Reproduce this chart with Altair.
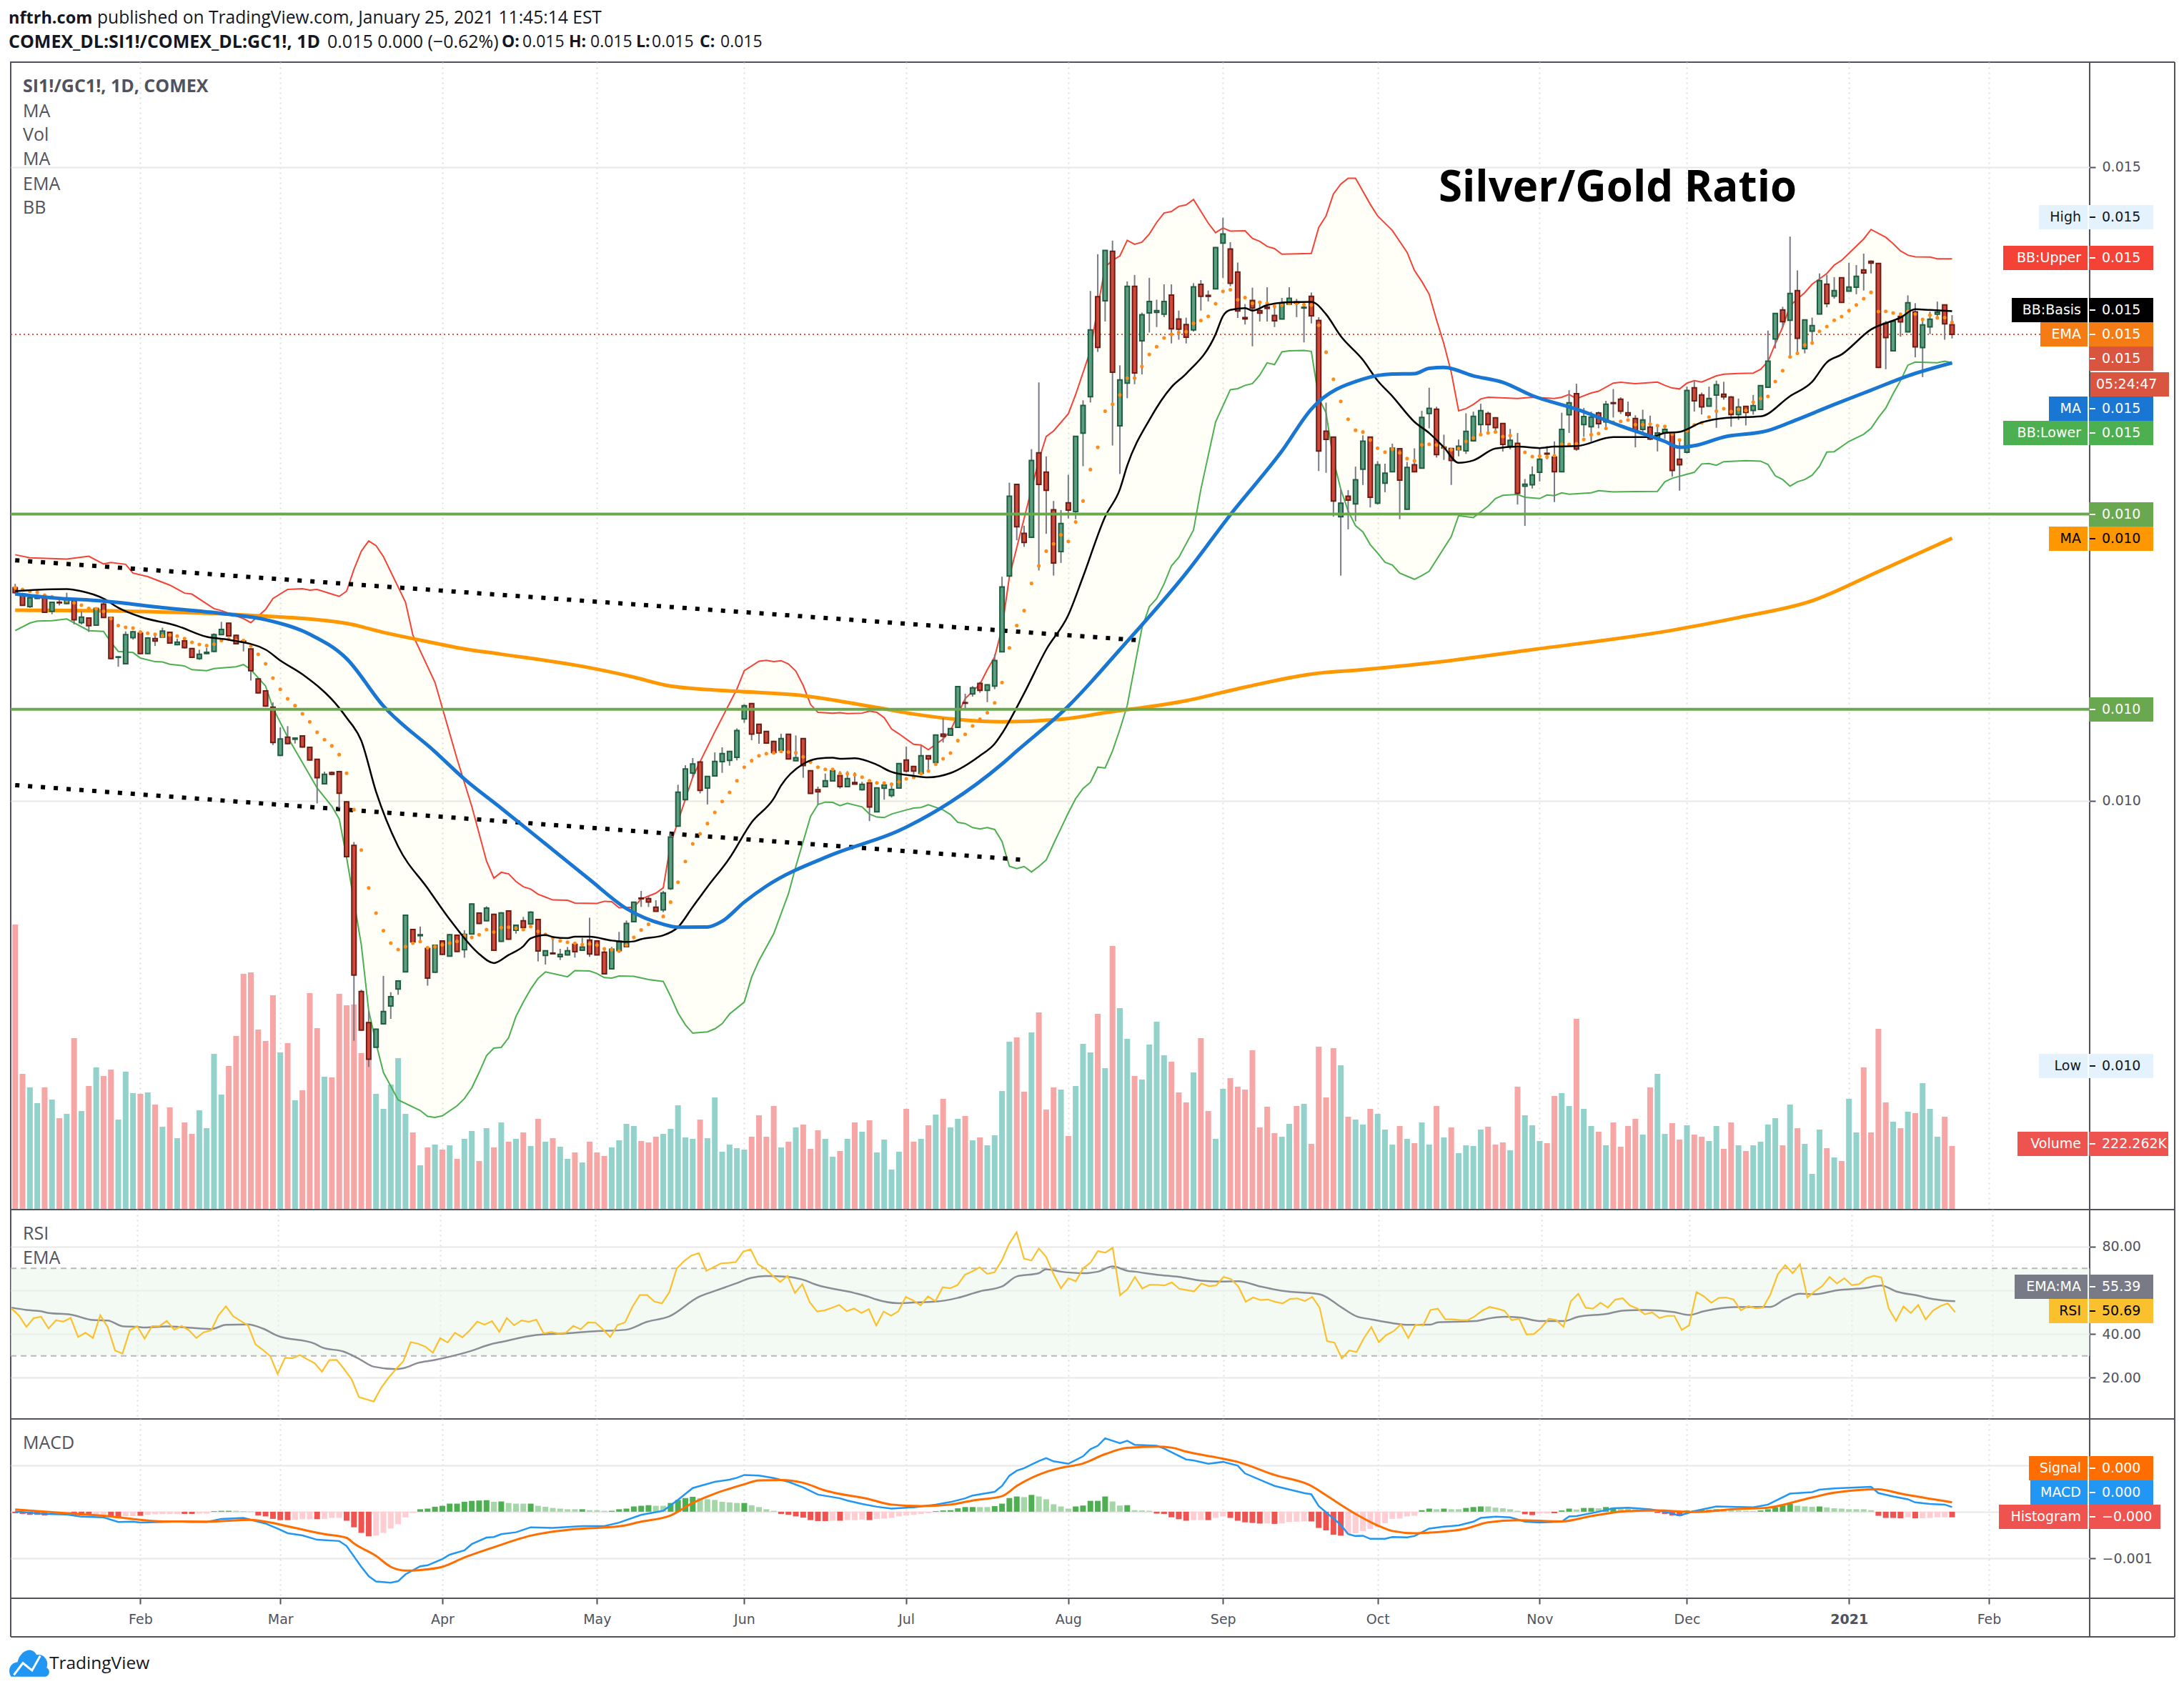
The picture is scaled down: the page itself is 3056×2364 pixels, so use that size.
import altair as alt
import pandas as pd

# ---------- values (price in 1/100000, RSI in points, MACD in 1/1000) ----------
directions = ("rrggrgrgrg" "rgrrgggrgr" "grgrrggggr" "rrrrrrgrgr" "rrgrrrrrrg" "ggggrgrgrg" "rggrgrgrgr"
              "grgrggrgrr" "rggggrrrgg" "gggrgggggg" "rrrrgrgrrr" "ggrgrgrggg" "grrgrgrggr" "grggggrrgr"
              "rrgrgggrgr" "ggrggggrrr" "grrggrrrrr" "rrggrgrrrr" "grggrgggrg" "rggrgrgggg" "rrrgrgggrr"
              "ggrggrgrrr" "rgrggrrgrr" "ggrrgrgggg" "rgrgggrgrg" "grrrrgrgrg" "ggrr")

body_top = [1168,1163,1160,1160,1160,1156.5,1156.5,1158,1157.7,1144.7,
 1144,1151.6,1155,1144.5,1113.4,1131,1133.2,1132,1128.3,1127.8,
 1133.8,1132.7,1125,1126,1120,1115.4,1117,1131,1135,1140,
 1130.4,1125.8,1119.7,1096,1086.6,1073.7,1048.7,1050,1049.3,1051,
 1042,1032.6,1020.8,1022.2,1022.8,999,964.7,849.4,824.9,819.7,
 833.6,845.3,857.7,909.5,898.3,894.2,883.3,885.9,889.3,894.2,
 893.7,894.5,918.4,911.2,915.2,910.3,911.4,912.9,901.6,905.2,
 912,906.1,881.5,879.7,878.7,881.5,886.6,884.4,890,889.2,
 880.4,882.7,888.9,903,919.9,923.1,922.7,915.9,927.2,971.2,
 1006.7,1024.9,1028.9,1030.5,1019.1,1030.9,1037.1,1038.8,1055.2,1074.9,
 1076.6,1060.2,1054.6,1046.7,1048.9,1052.3,1033.9,1048.9,1023.6,1008.6,
 1015.7,1023.6,1019.8,1017.4,1014.2,1012.9,1014,1010,1012.3,1008.7,
 1029.2,1032,1027,1035.4,1035.4,1051.8,1052.5,1056.8,1089.9,1077.3,
 1089,1092.4,1091.4,1110.5,1168.6,1240.2,1249.4,1210.8,1268.4,1274.4,
 1259.2,1229.5,1218.6,1235,1287.3,1311.8,1371.3,1397.5,1434,1433.4,
 1331.9,1405.8,1405.8,1383.4,1393.8,1386.6,1393.8,1398.9,1380,1375.6,
 1405.3,1407.3,1398.6,1436.3,1447,1435.2,1417,1381.1,1394.6,1386.6,
 1389.4,1382.8,1392,1396.3,1393.5,1389.2,1397.8,1378.8,1291.4,1286.8,
 1234.7,1240.2,1253.1,1283.6,1286.8,1264.9,1258.3,1278.1,1277.6,1262.9,
 1264.9,1302.3,1309.5,1308.8,1278.9,1277.8,1279.6,1291.3,1303.1,1307.6,
 1305.4,1302,1297.5,1284.3,1281.9,1249.6,1256.9,1269.3,1274,1271,
 1292.8,1313.8,1321,1303,1302.6,1305.8,1312.7,1313.9,1316.7,1305.9,
 1301.4,1300.3,1294.7,1290,1292.8,1289.4,1269.3,1323.6,1325.7,1320,
 1317.2,1328.1,1320.6,1318.4,1310.5,1311,1311.6,1327.4,1346.7,1384.3,
 1387.1,1400.1,1402.4,1379.2,1374.7,1410.2,1407.4,1402.4,1412.5,1405.2,
 1413.6,1418.7,1425.5,1423.8,1376.6,1378.1,1382,1392.8,1385.6,1375.3,
 1379.8,1385.3,1391.1,1375.5]

body_bottom = [1164,1154,1153,1159.5,1148.5,1149.3,1156,1155.4,1142.7,1140.4,
 1138,1138.4,1144.5,1112,1113,1108,1128.6,1116,1116,1125.8,
 1129,1124.3,1123,1120.6,1113,1112,1116,1117.7,1131,1130,
 1123.8,1125,1102.5,1085,1074.6,1045.8,1035.7,1045,1048.4,1042.3,
 1032,1018,1013.3,1020.8,1005.8,955.8,862.3,818.9,796,805.4,
 823.8,837.9,851.4,864.9,888.5,893.4,860,864.6,878.7,877.3,
 881,882.4,894.8,903.1,905.2,881.9,888.9,890.7,897.7,899.8,
 902.6,881.3,877.8,879.1,876.8,878.2,880.8,881.9,878.9,878.2,
 863.3,867.2,881.7,884.7,904.5,922.5,920,912.7,913.8,930.6,
 979.8,1000.7,1021.7,1008,1009.9,1019.5,1030.7,1031.7,1034.1,1064.4,
 1052.5,1053.3,1045.4,1037.9,1039.6,1032.8,1031.5,1027.7,1005.7,1006.9,
 1011,1015.5,1011,1011,1013,1008.6,995,991.1,1009.7,1004,
 1009.9,1023.2,1023.2,1021.5,1032.8,1030,1050.8,1051.6,1057.8,1076.8,
 1084.1,1086.9,1086.9,1090.3,1117.4,1177.2,1216,1203.6,1207.7,1249.4,
 1244.8,1187.5,1196.5,1229.2,1228.1,1289.9,1318.7,1357.5,1394.3,1338,
 1295.7,1329.3,1337.4,1362.7,1384.8,1385.1,1383.7,1372.2,1371.9,1365.6,
 1371.3,1397.8,1397.8,1403.8,1439.8,1408.1,1386.3,1380,1388.6,1384.6,
 1388.3,1378.5,1380,1391.7,1392.6,1388.6,1382.5,1275.8,1285,1236.4,
 1224,1237,1234.1,1261.4,1239.3,1234.7,1250.5,1259.4,1252.8,1229.8,
 1259.4,1262.3,1305.4,1273,1278.1,1268.4,1276.8,1275.9,1283.8,1296.6,
 1296.6,1294.3,1281,1279.6,1242.4,1248.1,1249.2,1259,1273.4,1259.5,
 1259.4,1304.4,1277.4,1296.6,1295,1297.3,1298.8,1313.3,1307.3,1304,
 1291.5,1292.8,1285.3,1286.2,1290,1260.5,1265,1274.8,1315.4,1310.6,
 1311.2,1319.9,1318.5,1304.5,1304.5,1306.3,1307.8,1308.6,1326.1,1364.2,
 1377.9,1379,1364.8,1356.5,1370.4,1383.9,1392,1398,1393,1402,
 1405,1416.3,1424,1341.7,1365.3,1354.8,1377.7,1369.8,1358,1357.4,
 1373.8,1383.8,1376.2,1367.8]

wick_high = [1171,1164,1161,1162,1160.5,1157,1160,1164,1158,1149.3,
 1144.5,1152,1157,1145,1114,1133.5,1134,1133.5,1129,1131,
 1136.4,1133,1127.8,1127,1120.5,1119,1120.6,1132,1141,1140.5,
 1131,1126.5,1120,1096.5,1087,1077.4,1057.9,1058.7,1049.8,1051.5,
 1042.5,1033,1022.8,1023,1023.5,999.5,967.3,850.8,833.9,820,
 861.7,848.8,858,910,898.8,900.6,884,886.3,889.8,894.7,
 894,897.7,918.8,911.6,916.6,910.8,912,913.3,902,908.2,
 912.7,906.5,882,892.6,883,884.5,887,891.7,907.6,889.6,
 881.7,884.5,896.4,905.4,920.3,928.7,924.6,921.4,928.7,974,
 1012.5,1027.9,1033.6,1031,1019.5,1038,1042,1039.2,1057,1076,
 1077,1060.6,1055,1047.2,1052.7,1052.7,1051.4,1049.3,1024,1011,
 1021.3,1024,1023.2,1023.2,1022.3,1014.8,1015.7,1010.4,1014.2,1013.5,
 1029.6,1042.6,1027.4,1043.5,1035.8,1052.2,1065.1,1057.2,1090.3,1084.3,
 1090.3,1093.7,1091.8,1115.4,1176.6,1250.8,1249.8,1216.9,1277.3,1329.9,
 1271.5,1236.4,1229.2,1257.1,1287.7,1315.8,1402.1,1431.1,1434.4,1441.8,
 1343.4,1409.6,1414.7,1385,1412.4,1395.2,1407.3,1407.3,1386.6,1381,
 1408.2,1410.7,1402.4,1436.7,1459.9,1440.6,1424.5,1391.7,1404.7,1393.8,
 1405,1389.4,1396.6,1405,1395.8,1393.8,1400.9,1381.4,1314,1287.2,
 1245.6,1245,1263.5,1288.2,1287.2,1267.8,1265.8,1281.6,1278,1267.2,
 1277.9,1307.5,1325.7,1310.7,1288.7,1278.2,1284.9,1305.6,1306.9,1313.1,
 1306.9,1302.4,1297.9,1293.2,1290,1253.7,1263.7,1277.8,1279.7,1283.4,
 1306,1323.8,1328.9,1309.8,1306.9,1306.9,1315.4,1324.7,1318.2,1314.8,
 1304,1308.4,1303.7,1296.6,1295.6,1291,1285,1326.6,1331.7,1321.9,
 1326.6,1331.3,1330.4,1319.2,1317.2,1311.4,1320,1327.8,1370.8,1384.7,
 1389.6,1445,1418.3,1379.6,1381.1,1415.9,1414.9,1413,1412.9,1424.3,
 1422.5,1431.5,1426.2,1424.2,1378.4,1378.5,1384.8,1398.6,1392.4,1380,
 1385.8,1393.7,1391.5,1383]

wick_low = [1163,1154,1152,1159,1148,1147,1154,1155,1139,1139,
 1133,1138,1144,1111.5,1105.6,1107.5,1127,1115.5,1115.5,1122,
 1128.5,1124,1122.5,1120,1112.5,1111,1115.5,1117,1130.5,1129.5,
 1123.5,1117.7,1094.7,1084.5,1074,1043.8,1035,1044.5,1045,1041.8,
 1031.5,997.8,1013,1020,994,955,810.5,818.5,789.8,805,
 823.3,827.8,846.8,864.5,888,889,854,864,878,877,
 880.5,876,894.3,902.6,904.8,881.4,888.4,890.2,895,897.7,
 902.2,873.1,870.6,878.5,874.2,877.8,876.1,881.5,876.7,877.8,
 863,866.8,881,884.3,904,916.1,916.1,912.3,912,929.5,
 979.3,1000.2,1017.6,1005.7,996.9,1019,1021.9,1027.5,1031.7,1061.4,
 1047.6,1044.8,1045,1037.5,1039.2,1032.4,1031,1018,1005.3,996.9,
 1010.6,1015,1009.5,1010.5,1012.9,1007.8,983.8,990.7,1000.7,1002.5,
 1009.5,1022.2,1017.6,1021,1023.2,1029.6,1045.8,1051.2,1057.4,1073,
 1082,1085.1,1077.7,1087.9,1117,1176.8,1205.4,1200.2,1207.3,1181.5,
 1210.5,1177.5,1187.5,1222.6,1222,1263.8,1314.1,1354,1378,1280.2,
 1257.7,1317.5,1328.5,1336.2,1369.3,1373.6,1381.4,1360.7,1363.6,1360.7,
 1370,1386.6,1393.8,1403.4,1412.4,1405.8,1380.8,1375.6,1358.4,1378,
 1378,1373.6,1379.6,1391.3,1381.4,1361.5,1376.5,1260,1258.6,1224,
 1177.5,1214,1220.3,1249,1231.3,1233.5,1243.3,1259,1222,1229.4,
 1259,1262,1293.7,1270.6,1268.8,1249,1271.6,1273.5,1283.4,1290,
 1291,1290,1275.3,1277.1,1233.6,1216.7,1246.2,1251.8,1269.3,1235.5,
 1259,1290,1276,1287,1283.4,1293.7,1294.8,1302.2,1305,1302.2,
 1278.7,1288.7,1284.3,1275.5,1285.3,1255.6,1244.5,1274,1306.9,1304.6,
 1310.8,1294.1,1316.3,1295,1300.3,1296,1304.5,1308.2,1325.7,1356.7,
 1373.6,1350.1,1352.9,1352.9,1360.5,1383.5,1389.2,1396,1392.6,1401.6,
 1399.5,1402.4,1415.9,1341.3,1340.3,1354.4,1366,1369.4,1349.7,1334.1,
 1368,1382,1363.6,1364.6]

volume = [1197,570,513,447,513,462,384,402,720,414,
 519,597,561,588,378,579,489,486,492,441,
 348,429,300,366,318,417,342,654,483,603,
 729,990,996,756,708,900,660,699,459,501,
 909,762,558,555,906,858,861,657,631,486,
 423,525,636,402,324,186,261,273,252,270,
 213,297,330,204,342,261,366,285,297,324,
 267,381,285,300,264,213,240,198,285,240,
 225,261,291,360,351,288,282,306,318,339,
 438,303,297,378,300,471,243,273,258,252,
 306,396,306,435,261,285,345,357,255,333,
 297,222,246,297,366,327,375,240,294,168,
 243,423,285,297,354,399,465,345,381,393,
 291,303,270,312,498,705,723,495,744,828,
 420,513,504,309,519,696,660,822,594,1107,
 846,717,561,546,693,789,648,621,492,450,
 576,720,414,297,507,552,516,504,669,345,
 432,321,306,360,435,444,276,684,471,678,
 606,390,378,357,423,402,336,273,351,297,
 279,366,273,435,303,345,237,270,267,336,
 348,273,282,249,516,396,354,288,279,477,
 489,435,801,423,351,327,270,366,264,351,
 381,315,513,570,318,363,294,354,315,306,
 288,351,255,366,270,246,270,285,357,384,
 270,441,342,276,150,336,258,219,204,465,
 324,597,324,759,450,369,342,411,405,531,
 423,306,390,267]

ema_dots = [1168,1166.6,1165.2,1164.3,1162,1160.8,1159.4,1158,1156,1154.2,
 1151.6,1151.4,1149.3,1143.6,1138.1,1136.7,1136.1,1133,1132.1,1131.2,
 1130,1130.6,1129.8,1127.8,1124.9,1123.2,1122.3,1123.5,1126.3,1127.5,
 1126.3,1126.3,1122,1115.4,1107.9,1096.7,1087.8,1080.3,1074.9,1068.5,
 1062.2,1053.9,1048.1,1043.2,1036.3,1021.6,992.9,961,931.1,911.2,
 897.4,887.6,882.5,884.8,887.6,888.8,883.9,884.8,886.2,887.6,
 889,893.4,892,894.2,898.3,896.3,899.8,900.1,899.2,898.3,
 900.7,896.8,894.5,891.7,889.4,888.3,887.4,886.4,887,886,
 883,882.3,881.3,886,892,897.9,902.4,904.3,908.6,919.9,
 935.6,952,965.9,973.8,981.9,990.7,999.3,1006.5,1015.7,1026.4,
 1031.5,1035.4,1037.1,1037.7,1038.8,1038.3,1037.7,1034.5,1030.4,1026.4,
 1024.7,1024.7,1021.3,1021.3,1020.4,1018.5,1015.7,1014,1013.8,1012.9,
 1014.8,1017.2,1018.3,1021.3,1023.4,1028.7,1033,1037.5,1047.3,1052.3,
 1058.9,1064.2,1069.3,1077.1,1093.2,1120.5,1138.1,1149.9,1171.4,1185.2,
 1196.8,1202.5,1209.7,1204.5,1219.8,1236.4,1261.2,1278.7,1307.2,1312.7,
 1320,1333.3,1333.3,1342.6,1352,1358.1,1365,1367.9,1369.3,1369.9,
 1376.5,1378.8,1382,1392,1401.8,1403,1395.2,1396.9,1392.3,1393.2,
 1392.3,1390,1390.9,1392.3,1392.3,1391.2,1390.9,1375,1353.8,1332.5,
 1315,1300.9,1292.2,1290.8,1284.5,1278.1,1275,1277.3,1274.4,1269.8,
 1268.1,1280.7,1281.2,1280.6,1278.7,1276.8,1277.8,1283.4,1286.2,1288.8,
 1290,1290.9,1287.2,1288.1,1279.7,1274.8,1271.4,1271.8,1271.2,1272.1,
 1281.2,1281,1281.5,1284.9,1288.7,1289.6,1293.7,1298.4,1299.2,1300.3,
 1296.6,1296.6,1297.1,1295.8,1295.2,1289,1284.5,1291.9,1296.4,1298.1,
 1302.6,1307.3,1309.2,1306.9,1308.8,1307.8,1314.4,1317.2,1318.9,1330.6,
 1339.2,1350.1,1352.9,1359.5,1361,1370.2,1374,1379,1381.9,1386.6,
 1391.1,1396,1401,1385.8,1386,1384.7,1383.7,1385.8,1383.9,1379.6,
 1383,1380.9,1381.1,1377.4]

ma200_x = [0,16,31,45,50,55,61,66,77,84,89,98,107,111,117,122,128,134,142,148,159,167,176,183,192,206,225,234,244,253,263]
ma200_y = [1150.2,1149.3,1146.5,1139.8,1132.7,1126.6,1119.7,1115.5,1105.9,1097.4,1090.3,1086.2,1082.8,1079.4,1073.4,1068.3,1064,
           1062.2,1064.2,1069.3,1078.8,1089.5,1099.8,1103.3,1108.5,1119.1,1134.4,1144.4,1157.6,1180.7,1207]

ma50_x = [0,5,12,20,29,34,40,45,50,57,61,66,72,78,83,88,90,94,96,99,102,111,120,127,134,136,143,150,159,165,172,176,183,187,190,192,194,198,202,206,212,218,224,226,228,232,238,242,247,252,257,263]
ma50_y = [1163.1,1160,1157.4,1152.2,1147,1142.7,1131.2,1112,1074.6,1038.6,1017,994,965.9,937.7,914.8,902.4,900.1,900.3,904.8,919.9,932.5,957.5,976.3,998.8,1028.9,
          1039.1,1074.5,1119.1,1179.5,1225.5,1275.8,1308.9,1332.5,1336.5,1336.8,1341,1341.7,1335.1,1330,1319.5,1308.8,1295.6,1283.4,1278.7,1280,1286.8,1291.9,1300.7,1312.5,1323.8,1335.1,1345.4]

basis_x = [0,3,7,9,12,14,17,22,26,29,34,36,39,44,45,47,49,52,56,59,63,65,67,69,70,72,73,75,76,78,81,83,84,85,88,90,92,94,97,100,103,104,107,109,111,112,114,117,119,122,124,127,131,133,134,137,140,143,145,148,150,151,154,157,159,163,164,165,167,168,170,173,176,178,180,183,185,187,190,192,194,196,198,201,204,207,209,212,217,222,224,226,229,232,237,241,244,246,248,252,256,258,260,263]
basis_y = [1165.2,1166.3,1166.9,1165.2,1159.4,1152.2,1145,1137.8,1129.2,1126.9,1119.1,1110.5,1099.6,1073.1,1065.4,1047.2,1007,963.8,930.8,906.3,879,871.8,878.2,885.1,891.3,893.9,892.4,891.5,892.6,892.6,889.6,888.5,888.9,890.7,893.7,900.1,916.1,932,954.6,982.8,1001.6,1011.9,1028.9,1033.2,1033.9,1033,1033.4,1028.3,1022.6,1019.5,1018.3,1021.7,1035.4,1044.8,1053,1084.6,1119.1,1146.4,1176.6,1224,1245.6,1264.3,1300.3,1326.2,1336.8,1367.9,1382.3,1387.1,1388.6,1386.6,1390.9,1393.2,1393.5,1383.7,1366.4,1347.7,1331.3,1319,1298.8,1290,1278.7,1266.5,1268.4,1277.8,1279.3,1278.1,1279.3,1279.7,1286.8,1286.8,1290,1290.9,1298.4,1301.8,1303.1,1319.1,1330.4,1345.8,1352,1371.7,1381.1,1387.7,1387.1,1386.2]

upper_x = [0,2,7,10,12,13,15,16,18,21,23,24,27,28,31,32,34,35,37,39,40,41,43,44,45,46,47,48,49,50,53,54,57,60,62,64,65,66,67,68,69,70,71,73,75,76,79,80,81,82,84,85,87,88,89,92,93,95,98,99,101,102,103,104,105,106,107,108,109,111,112,113,115,116,117,118,119,120,122,123,124,126,127,129,131,132,133,134,135,137,138,139,140,141,143,144,145,146,147,148,149,150,151,152,153,154,155,156,157,158,159,160,162,163,164,165,167,168,169,170,171,172,176,177,178,179,180,181,182,184,185,187,189,190,191,192,193,194,195,196,197,198,199,200,204,206,209,210,211,212,214,215,217,218,220,223,224,225,226,227,228,229,231,232,234,236,237,238,239,240,241,243,244,246,247,248,251,252,254,255,256,257,258,260,261,263]
upper_y = [1194,1191.6,1190.5,1192.8,1186.7,1187.9,1186.4,1179.5,1176.7,1170,1163.7,1162.9,1151.4,1149.9,1143.6,1140.4,1150.8,1159.4,1166.6,1167.2,1166,1166.6,1162.9,1161.1,1165.2,1182.4,1196.8,1204.8,1201.1,1192.5,1156.5,1130.6,1093.3,1032.9,995.5,952.3,938.8,943.4,942.2,936.2,932,930.2,926.1,921.6,921.4,919.1,918.9,920.6,920.2,915.5,915.9,922.3,927,931.2,965.9,1018.5,1030.7,1054.2,1088,1102.5,1110,1110.6,1109.6,1110.4,1107.8,1102.1,1090.9,1075.8,1069.6,1068.9,1069.4,1068.7,1069,1070.6,1069.6,1065.5,1056.5,1052.7,1044.4,1043.9,1040.1,1048.6,1055.2,1080.5,1091.8,1103.3,1113.3,1136.3,1176.6,1222.6,1245.6,1268.6,1287.3,1291.6,1305.2,1320.4,1337.7,1355,1389.4,1421,1426.3,1429.7,1442,1438.9,1440.6,1447,1456.2,1463.6,1464.8,1468.8,1470,1474.3,1455.6,1448.1,1451.8,1449.3,1449.6,1443.5,1441.2,1437.2,1435.5,1431.1,1431.7,1452.1,1461.3,1478.6,1486.4,1491,1491,1470.5,1461.3,1449.8,1432.6,1418.2,1409.6,1399.5,1379.2,1360.4,1337.9,1307.5,1309.3,1312.5,1316.9,1318.2,1317.2,1318.2,1317.2,1318.2,1320.4,1317.2,1321.6,1323,1329.4,1330,1328.9,1330.2,1327.6,1325.5,1324.8,1329.4,1331.3,1330.2,1335.1,1336.4,1337,1337.3,1340.2,1346.4,1360.4,1373.6,1390.5,1400.8,1407.4,1415.9,1422.5,1426.2,1443.1,1450.6,1444.4,1439.4,1433.7,1430.3,1429,1428.8,1427.5,1427.5]

lower_x = [0,2,3,5,7,10,12,13,14,16,17,19,20,21,23,24,26,27,30,31,32,34,35,37,39,41,43,44,45,47,48,49,50,52,55,56,57,58,60,61,62,63,64,65,66,67,68,69,70,71,72,75,76,78,79,80,81,82,84,86,88,89,90,91,92,94,95,96,97,99,100,101,103,105,106,108,109,110,111,112,113,115,116,117,118,119,121,122,123,124,126,127,128,129,130,131,132,133,134,135,136,137,138,139,140,141,142,143,144,145,146,147,148,149,150,151,153,154,155,156,157,158,160,161,163,165,166,167,168,169,170,171,172,173,175,176,177,178,179,180,181,182,183,184,185,186,187,188,190,191,192,195,196,198,200,201,202,204,205,207,208,209,210,211,214,215,217,223,224,225,228,229,230,231,232,235,237,238,239,240,241,242,243,244,245,246,247,249,251,252,253,254,255,256,257,258,261,262,263]
lower_y = [1134.1,1140.1,1141.6,1141.9,1143.3,1134.1,1133.5,1124.9,1117.7,1116.8,1112.5,1109.6,1109.4,1107.6,1106.2,1103.3,1102.5,1104.2,1105.6,1107.3,1103.3,1090.4,1073.1,1050.1,1030,1009.9,995.5,985.4,955.2,886.2,834.4,808.5,785.5,763.9,755.5,750.8,750,751.3,759.2,764.9,773.3,785.5,798.7,804.7,805.3,812.8,829.7,841,851.3,859.7,864.8,861,865.8,865.6,863.5,860.3,859.9,861.6,861.4,858.8,857.3,845.6,832.5,823.1,816.5,817.5,819.9,824,831.6,841,860.7,873.8,895,926.5,948,987.5,996.9,998.8,998.6,996,997.9,995,989.4,987,986.6,989.4,992.6,994.1,994.5,996.7,992.6,989,982.8,981.9,978.7,977.6,978.7,977.2,967.8,948.2,946.4,948,943.7,948,953.1,965.9,978.1,990.3,1001.6,1009.5,1014.4,1026.4,1025.7,1039.1,1056.1,1075,1136.3,1153,1159.4,1170.9,1185.2,1191.8,1213.4,1245.6,1298.8,1324.2,1325,1327.6,1329,1335.7,1345.4,1344,1354,1354.9,1355.2,1354.4,1317.5,1306,1268.6,1245.6,1228.4,1216.9,1212,1201.9,1195.3,1188.1,1185.8,1179.5,1174.6,1177.5,1180.9,1208.3,1224.8,1223.3,1232.3,1238.3,1240.8,1241.5,1239.3,1238.3,1241.1,1240.6,1242.8,1241.7,1242.8,1244.5,1243.6,1244,1251.5,1254.3,1259,1265.6,1265.9,1264.6,1267.4,1268.2,1267.8,1265.2,1256.2,1253.3,1248.1,1251.5,1253.3,1256.7,1263.7,1275,1275.3,1283.4,1289,1293.7,1302.2,1309.7,1321,1331.3,1343.5,1346,1345.4,1346.7,1345.4]

trend_x = [0, 153]
trend_upper = [1189.6, 1126.3]
trend_low_x = [0, 137]
trend_lower = [1012.2, 953.2]
support_levels = [1226, 1072]
last_price = [1367.9]

rsi = [51.7,48.4,43.3,47.3,47.9,42.5,46.3,45.7,47.4,38.6,40.6,38.2,48.6,43.2,32.5,31.1,41.7,43.6,37.9,43.6,43.6,46,42,43.7,41.7,38.2,40.8,41.7,48.6,52.7,48.1,46,43.9,35.3,32.8,29.9,21.8,29.2,28.9,30.4,28.5,26.7,22.8,28.1,28.2,24,19.4,11.2,10.2,9.2,15.4,20,24,27.5,36.3,35.6,34.2,31.5,38.2,36.1,40.6,38.5,41.7,45.7,44.3,45.9,41,47.3,44,46.2,45.6,46.6,40.3,40.9,40.3,40.6,43.7,42.2,45.3,45.2,42.2,38.6,44.2,45.3,52.4,57.8,57.8,54.8,54,59.1,69.9,73.3,75.9,77,68.9,70.6,
 72.3,72.5,72.9,77.6,78.7,71.9,69.8,66.6,63.8,66.6,58.8,62.7,54.5,50.3,50.8,52,53.3,50.4,51.7,49.6,51.4,43.9,50.3,48.4,50.4,57,55.3,53.1,57.2,55,61.4,60.9,62.4,67.1,68.6,70.5,67.5,68.2,73.7,81.3,86.5,74.5,73.6,79.1,75.2,67.3,60.9,65.5,64.1,70,72.7,77.9,77.2,79.4,57.7,60.5,66.1,60.8,62.5,62.5,62.2,63.6,60.7,60.1,59.5,63.1,61.9,62.2,66.1,65.1,61.7,54.8,56.7,55.5,55.8,54.7,54,56,56.3,55.1,57,52.1,36.8,36.1,28.9,32.5,31.8,38.2,43.2,36.3,39.5,41.3,44.4,38.2,44.3,43.9,
 51,51.6,46.7,46.7,46.4,46.3,48.1,50.7,52.4,51.6,50.7,46.3,47,39.8,40,42.9,47,46.4,43.3,55,58.4,52,51.6,54.3,52.1,55.7,56.4,53,51.7,49,49.9,47.3,48.3,48.3,41.9,44,59.2,57.2,54.3,56.5,56.7,55.8,50.8,52.8,51.8,52.1,58.1,67.3,71.5,67.8,71.9,56.7,59.5,61.9,66.1,63.1,65.5,62.4,62.8,65.5,66.6,65.9,51.7,46,52.6,49.6,53.3,46.7,50.7,52.8,54,50]

rsi_ema_x = [0,2,4,5,8,11,13,15,17,18,21,24,27,29,32,34,36,41,42,45,47,49,52,53,55,57,62,65,66,71,75,79,83,86,89,93,95,98,100,102,105,107,109,114,116,117,120,122,125,128,131,134,136,139,140,142,145,147,149,151,152,155,158,161,164,166,169,172,177,180,182,184,187,189,192,193,198,200,202,204,207,210,212,216,218,221,225,227,229,233,238,240,242,244,247,251,253,255,258,260,263]
rsi_ema_y = [52.1,51,50.4,49.6,48.9,46.4,46.2,43.6,43.3,43,43.5,42.9,42.3,44.2,44.4,42.5,39.2,35.6,33.9,31.9,28.7,25.1,24,24.4,26.8,28,32.1,35.5,36.2,39.6,40.3,41.3,41.9,45.6,48.1,57,59.5,63.1,65.6,66.5,66.2,64.9,62.4,58.8,57,55.8,54.1,54.4,54.8,56.5,59.5,61.7,66.3,67.8,69.6,68.5,67.8,68.5,70.9,68.9,68.5,67.1,66.1,64.4,64,64.1,61.7,59.7,58.2,52.1,48.1,46.7,44.9,44.2,44.3,45.4,45.9,47.2,47.9,47.6,45.9,45.9,47.9,49.3,50.7,51,50,48.7,50.4,52.3,52.4,56,58.4,58.2,60,61.1,62.2,59.5,57.5,56,55]

macd_x = [0,4,7,9,12,14,16,17,20,22,24,26,28,31,34,36,37,39,41,44,45,47,48,49,51,52,53,55,56,58,59,61,62,64,65,66,68,70,73,77,80,82,85,88,90,92,95,97,98,99,101,103,105,107,109,112,113,115,117,119,121,122,125,127,129,130,133,134,135,136,137,139,140,141,143,145,146,147,148,150,151,152,155,156,159,160,162,164,166,167,171,175,176,177,180,181,182,183,184,186,187,189,190,192,194,196,198,199,201,203,205,207,210,211,212,215,217,219,222,224,226,228,231,236,238,241,244,245,247,252,253,255,257,258,260,262,263]
macd_y = [0.007,-0.047,-0.06,-0.107,-0.12,-0.22,-0.213,-0.233,-0.22,-0.207,-0.22,-0.22,-0.153,-0.133,-0.253,-0.387,-0.46,-0.507,-0.6,-0.627,-0.733,-1.18,-1.38,-1.493,-1.52,-1.487,-1.34,-1.167,-1.147,-1.013,-0.92,-0.827,-0.693,-0.553,-0.54,-0.48,-0.44,-0.333,-0.347,-0.307,-0.307,-0.233,-0.067,0.02,0.253,0.507,0.64,0.687,0.727,0.787,0.773,0.72,0.64,0.52,0.367,0.287,0.24,0.167,0.107,0.067,0.087,0.093,0.153,0.207,0.287,0.347,0.427,0.553,0.773,0.88,0.933,1.087,1.147,1.08,1.027,1.187,1.34,1.413,1.573,1.467,1.52,1.433,1.413,1.353,1.12,1.1,1.027,1.067,0.987,0.82,0.553,0.4,0.373,0.12,-0.28,-0.48,-0.52,-0.513,-0.58,-0.58,-0.54,-0.547,-0.52,-0.36,-0.32,-0.293,-0.213,-0.133,-0.107,-0.12,-0.213,-0.233,-0.213,-0.1,-0.093,0,0.073,0.087,0.053,0,-0.08,0.013,0.113,0.093,0.153,0.387,0.42,0.473,0.5,0.533,0.4,0.327,0.267,0.2,0.167,0.153,0.1]

signal_x = [0,7,13,17,20,26,32,34,38,42,45,46,49,51,53,55,58,61,65,70,73,76,82,85,89,92,95,99,101,104,107,110,116,119,123,127,130,134,136,140,142,145,148,151,155,157,159,163,166,171,176,178,182,185,187,190,192,197,200,204,210,214,219,223,228,233,238,243,247,253,256,263]
signal_y = [0.047,-0.033,-0.1,-0.173,-0.207,-0.213,-0.173,-0.213,-0.347,-0.48,-0.56,-0.68,-0.947,-1.18,-1.26,-1.247,-1.18,-0.98,-0.76,-0.513,-0.427,-0.373,-0.313,-0.213,-0.08,0.187,0.387,0.587,0.673,0.68,0.62,0.453,0.267,0.153,0.12,0.153,0.24,0.333,0.553,0.853,0.94,1.033,1.233,1.367,1.393,1.373,1.287,1.167,1.067,0.787,0.553,0.353,-0.047,-0.293,-0.413,-0.46,-0.447,-0.36,-0.227,-0.18,-0.207,-0.093,0.013,0.027,-0.007,0.053,0.087,0.267,0.407,0.48,0.387,0.2]

histogram = [-.033,-.047,-.067,-.067,-.08,-.013,-.013,-.013,-.08,-.08,-.08,-.053,-.06,-.12,-.12,-.093,-.093,-.087,-.067,-.053,-.047,-.047,-.047,-.047,-.047,-.04,-.04,.013,.02,.02,.02,.013,.007,-.08,-.1,-.153,-.18,-.18,-.173,-.16,-.16,-.16,-.153,-.133,-.133,-.193,-.333,-.453,-.527,-.513,-.453,-.36,-.267,-.12,-.027,.053,.067,.107,.127,.173,.173,.213,.233,.24,.247,.213,.22,.187,.173,.173,.173,.127,.107,.08,.067,.053,.053,.053,.033,.033,.02,.02,.053,.067,.113,.127,.14,.127,.127,.187,.253,.293,.32,.293,.267,.253,
 .213,.2,.187,.187,.14,.1,.053,.02,-.047,-.067,-.1,-.127,-.18,-.2,-.2,-.193,-.193,-.18,-.18,-.167,-.18,-.153,-.147,-.133,-.1,-.08,-.067,-.047,-.033,.013,.027,.033,.073,.1,.1,.1,.1,.12,.173,.293,.327,.313,.36,.327,.267,.16,.113,.067,.113,.133,.233,.233,.327,.22,.133,.14,.033,.027,.02,-.04,-.047,-.12,-.16,-.193,-.18,-.18,-.18,-.133,-.1,-.133,-.193,-.227,-.24,-.253,-.253,-.26,-.253,-.22,-.213,-.207,-.207,-.347,-.4,-.493,-.513,-.48,-.46,-.413,-.367,-.333,-.247,-.153,-.147,-.1,-.087,.033,
 .067,.053,.067,.053,.053,.08,.1,.113,.113,.087,.073,.053,.02,-.053,-.073,-.04,-.04,-.033,.027,.067,.047,.08,.08,.073,.1,.087,.087,.067,.053,.04,.027,-.027,-.047,-.08,-.093,.027,.027,.04,.04,.053,.047,.04,.027,.02,.013,.027,.053,.093,.133,.173,.127,.113,.107,.113,.093,.073,.067,.053,.053,.053,.033,-.087,-.133,-.133,-.14,-.12,-.14,-.14,-.133,-.12,-.12,-.12]
histogram_tone = ("RRRRRPPPRR" "RPPRRPPRPP" "PPPRRPPDDD" "LLLRRRRRPP" "PRPPPRRRRP" "PPPPPDDDDD" "DDDDDLDLLL"
                  "DLLLLLLDLL" "LDDDDDDLLD" "DDDLLLLLLD" "LLLLRRRRRR" "RPRPPPRPPP" "PPPPPDDDDD" "DLLDDDDLDL"
                  "LLLLDDDDDL" "LDLLLRRRRR" "PPRPPRRRRR" "PRPPPPRRRR" "RPPPPPPPPP" "PDDLDLLDDD" "LLLLLRRPPR"
                  "DDLDDLDDLL" "LLLRRRRDDD" "DDLLLLLDDD" "DDLLLDLLLL" "LLLRRRRPRP" "PPPR")

month_ticks = [17, 36, 58, 79, 99, 121, 143, 164, 185, 207, 227, 249, 268]
month_labels = ["Feb", "Mar", "Apr", "May", "Jun", "Jul", "Aug", "Sep", "Oct", "Nov", "Dec", "2021", "Feb"]

assert len(directions) == 264 and len(body_top) == 264 and len(body_bottom) == 264
assert len(wick_high) == 264 and len(wick_low) == 264 and len(volume) == 264 and len(ema_dots) == 264
assert len(rsi) == 264 and len(histogram) == 264 and len(histogram_tone) == 264
for a, b in [(ma200_x, ma200_y), (ma50_x, ma50_y), (basis_x, basis_y), (upper_x, upper_y), (lower_x, lower_y),
             (rsi_ema_x, rsi_ema_y), (macd_x, macd_y), (signal_x, signal_y)]:
    assert len(a) == len(b), (len(a), len(b))

# ---------- layout ----------
W, H1, H2, H3, GUT = 2909, 1606, 293, 251, 119
UI = "DejaVu Sans"
TXT = "Open Sans"
GREY = "#50535e"
FRAME = "#50535e"

P = 1e5
P_LO, P_HI = 677.3, 1582.6
VOL_K = 0.1879          # one volume unit expressed on the price pane

xs = alt.Scale(domain=[-0.12, 281.2], nice=False, zero=False)
ys1 = alt.Scale(domain=[P_LO / P, P_HI / P], nice=False, zero=False)
ys2 = alt.Scale(domain=[1.23, 96.85], nice=False, zero=False)
ys3 = alt.Scale(domain=[-1.853e-3, 1.987e-3], nice=False, zero=False)
one = alt.Data(values=[{"a": 1}])

body_fill = {"g": "#5c9f80", "r": "#cf4a3a"}
body_edge = {"g": "#1f5c40", "r": "#6b1c16"}
vol_fill = {"g": "#92d2cb", "r": "#f7a6a6"}
tone_fill = {"D": "#4caf50", "L": "#a5d6a7", "R": "#ef5350", "P": "#ffcdd2"}

n = list(range(264))
candles = pd.DataFrame({
    "i": n,
    "fillc": [body_fill[d] for d in directions],
    "edgec": [body_edge[d] for d in directions],
    "volc": [vol_fill[d] for d in directions],
    "top": [v / P for v in body_top],
    "bottom": [v / P for v in body_bottom],
    "high": [v / P for v in wick_high],
    "low": [v / P for v in wick_low],
    "vol0": [P_LO / P] * 264,
    "vol1": [(P_LO + v * VOL_K) / P for v in volume],
    "ema": [v / P for v in ema_dots],
})


def X():
    return alt.X("i:Q", scale=xs, title=None)


def Y(field, scale):
    return alt.Y(field, scale=scale, title=None)


def line_df(xv, yv, k=P):
    return pd.DataFrame({"i": xv, "v": [v / k for v in yv]})


def line(df, scale, color, width, dash=None, curve="linear"):
    kw = {"strokeDash": dash} if dash else {}
    return alt.Chart(df).mark_line(color=color, strokeWidth=width, interpolate=curve, clip=False, **kw).encode(
        x=X(), y=Y("v:Q", scale))


def label(text, x, y, size=25, weight="normal", color=GREY, font=TXT, align="left"):
    return alt.Chart(one).mark_text(text=text, align=align, baseline="middle", fontSize=size, fontWeight=weight,
                                    font=font, color=color).encode(x=alt.value(x), y=alt.value(y))


def hseg(y, x0, x1, color=FRAME, width=2):
    return alt.Chart(one).mark_rule(color=color, strokeWidth=width).encode(
        x=alt.value(x0), x2=alt.value(x1), y=alt.value(y))


def vseg(x, y0, y1, color=FRAME, width=2):
    return alt.Chart(one).mark_rule(color=color, strokeWidth=width).encode(
        x=alt.value(x), y=alt.value(y0), y2=alt.value(y1))


def box(x0, x1, y0, y1, color):
    return alt.Chart(one).mark_rect(color=color).encode(
        x=alt.value(x0), x2=alt.value(x1), y=alt.value(y0), y2=alt.value(y1))


def tag(name, value, cy, left, right, fill, ink):
    out = []
    if name:
        out.append(box(left, W - 3, cy - 17, cy + 17, fill))
        out.append(label(name, W - 12, cy, size=19, color=ink, font=UI, align="right"))
    out.append(box(W - 1, right, cy - 17, cy + 17, fill))
    out.append(hseg(cy, W, W + 8, color=ink, width=2))
    out.append(label(value, W + 17, cy, size=19, color=ink, font=UI))
    return out


def base(axis_y, scale, field_value, bottom=False):
    ax_kw = dict(values=month_ticks, grid=True, gridDash=[2, 5], gridColor="#dedede", gridWidth=2, domain=False,
                 title=None, ticks=False, labels=False)
    if bottom:
        ax_kw.update(ticks=True, tickSize=8, tickWidth=2, tickColor=FRAME, labels=True, labelFont=UI,
                     labelFontSize=19, labelColor=GREY, labelPadding=12,
                     labelExpr="%s[indexof(%s, datum.value)]" % (str(month_labels), str(month_ticks)),
                     labelFontWeight={"condition": {"test": "datum.value == 249", "value": "bold"}, "value": "normal"},
                     labelOverlap=False, labelFlush=False)
    df = pd.DataFrame({"i": [0], "v": [field_value]})
    return alt.Chart(df).mark_rule(opacity=0).encode(
        x=alt.X("i:Q", scale=xs, axis=alt.Axis(**ax_kw), title=None),
        y=alt.Y("v:Q", scale=scale, axis=axis_y, title=None))


def y_axis(values, **extra):
    return alt.Axis(orient="right", values=values, grid=True, gridColor="#e8e8e8", gridWidth=2, domain=False,
                    tickSize=8, tickWidth=2, tickColor=FRAME, labelFont=UI, labelFontSize=19, labelColor=GREY,
                    labelPadding=9, title=None, **extra)


# ---------- price pane ----------
band = pd.concat([
    pd.DataFrame({"i": upper_x, "v": [v / P for v in upper_y]}),
    pd.DataFrame({"i": lower_x[::-1], "v": [v / P for v in lower_y[::-1]]}),
], ignore_index=True)
band["ord"] = range(len(band))
band_layer = alt.Chart(band).mark_line(fill="#ffeb3b", fillOpacity=0.045, strokeOpacity=0, interpolate="linear").encode(
    x=X(), y=Y("v:Q", ys1), order=alt.Order("ord:Q"))

vol_layer = alt.Chart(candles).mark_bar(size=8).encode(
    x=X(), y=Y("vol0:Q", ys1), y2="vol1:Q", color=alt.Color("volc:N", scale=None))

wicks = alt.Chart(candles).mark_rule(color="#787b86", strokeWidth=2).encode(
    x=X(), y=Y("low:Q", ys1), y2="high:Q")
bodies = alt.Chart(candles).mark_bar(size=6, strokeWidth=2).encode(
    x=X(), y=Y("bottom:Q", ys1), y2="top:Q",
    color=alt.Color("fillc:N", scale=None), stroke=alt.Stroke("edgec:N", scale=None))
dots = alt.Chart(candles).mark_circle(size=26, color="#ff8c1a", opacity=1).encode(
    x=X(), y=Y("ema:Q", ys1))

levels = pd.DataFrame({"v": [v / P for v in support_levels]})
level_layer = alt.Chart(levels).mark_rule(color="#6aa84f", strokeWidth=4).encode(
    x=alt.value(0), x2=alt.value(W), y=Y("v:Q", ys1))
last_layer = alt.Chart(pd.DataFrame({"v": [v / P for v in last_price]})).mark_rule(
    color="#d9553f", strokeWidth=2, strokeDash=[2, 4]).encode(
    x=alt.value(0), x2=alt.value(W), y=Y("v:Q", ys1))

INK = "#131722"
price_layers = [
    base(y_axis([0.010, 0.015], format=".3f"), ys1, 0.012),
    alt.Chart(one).mark_rule(opacity=0).encode(x=alt.value(-6), x2=alt.value(0), y=alt.value(-78)),
    band_layer, vol_layer,
    line(line_df(upper_x, upper_y), ys1, "#f44336", 2),
    line(line_df(lower_x, lower_y), ys1, "#4caf50", 2),
    line(line_df(ma200_x, ma200_y), ys1, "#ff9800", 5, curve="monotone"),
    last_layer,
    line(line_df(trend_low_x, trend_lower), ys1, "#000000", 6, [6, 12]),
    line(line_df(trend_x, trend_upper), ys1, "#000000", 6, [6, 12]),
    wicks, bodies, dots,
    line(line_df(basis_x, basis_y), ys1, "#000000", 2.5, curve="monotone"),
    line(line_df(ma50_x, ma50_y), ys1, "#1976d2", 5, curve="monotone"),
    level_layer,
    label("Silver/Gold Ratio", 1998, 177, size=60, weight="bold", color="#000000"),
    label("nftrh.com", -3, -61, size=23.5, weight="bold", color=INK),
    label("published on TradingView.com, January 25, 2021 11:45:14 EST", 121, -61, size=24.6, color=INK),
    label("COMEX_DL:SI1!/COMEX_DL:GC1!, 1D", -3, -28, weight="bold", color=INK),
    label("0.015 0.000 (\u22120.62%)", 443, -28, color=INK),
    label("O:", 687, -28, size=23, weight="bold", color=INK),
    label("0.015", 716, -28, size=23, color=INK),
    label("H:", 781, -28, size=23, weight="bold", color=INK),
    label("0.015", 811, -28, size=23, color=INK),
    label("L:", 875, -28, size=23, weight="bold", color=INK),
    label("0.015", 897, -28, size=23, color=INK),
    label("C:", 964, -28, size=23, weight="bold", color=INK),
    label("0.015", 993, -28, size=23, color=INK),
    label("SI1!/GC1!, 1D, COMEX", 17, 34, weight="bold"),
    label("MA", 17, 69), label("Vol", 17, 102), label("MA", 17, 136), label("EMA", 17, 171), label("BB", 17, 204),
    hseg(0, W, W + GUT), vseg(W + GUT, 0, H1),
]
price_layers += tag("High", "0.015", 217, W - 71, W + 89, "#e3f2fd", INK)
price_layers += tag("BB:Upper", "0.015", 274, W - 121, W + 89, "#f44336", "#ffffff")
price_layers += tag("BB:Basis", "0.015", 347, W - 109, W + 89, "#000000", "#ffffff")
price_layers += tag("EMA", "0.015", 381, W - 69, W + 89, "#f57c14", "#ffffff")
price_layers += tag("", "0.015", 415, 0, W + 89, "#d9553f", "#ffffff")
price_layers += [box(W + 1, W + 111, 434, 468, "#d9553f"), label("05:24:47", W + 9, 451, size=19, color="#ffffff", font=UI)]
price_layers += tag("MA", "0.015", 485, W - 57, W + 89, "#1976d2", "#ffffff")
price_layers += tag("BB:Lower", "0.015", 519, W - 121, W + 89, "#4caf50", "#ffffff")
price_layers += tag("", "0.010", 633, 0, W + 89, "#6aa84f", "#ffffff")
price_layers += tag("MA", "0.010", 667, W - 57, W + 89, "#ff9800", "#000000")
price_layers += tag("", "0.010", 906, 0, W + 89, "#6aa84f", "#ffffff")
price_layers += tag("Low", "0.010", 1405, W - 71, W + 89, "#e3f2fd", INK)
price_layers += tag("Volume", "222.262K", 1514, W - 101, W + 110, "#ef5350", "#ffffff")
pane1 = alt.layer(*price_layers).properties(width=W, height=H1)

# ---------- RSI pane ----------
band2 = alt.Chart(pd.DataFrame({"a": [30], "b": [70]})).mark_rect(color="#e8f5e9", opacity=0.55).encode(
    x=alt.value(0), x2=alt.value(W), y=Y("a:Q", ys2), y2="b:Q")
bounds2 = alt.Chart(pd.DataFrame({"v": [30, 70]})).mark_rule(color="#b8b8b8", strokeWidth=2, strokeDash=[8, 6]).encode(
    x=alt.value(0), x2=alt.value(W), y=Y("v:Q", ys2))
rsi_layers = [
    base(y_axis([20, 40, 60, 80], format=".2f"), ys2, 50),
    band2, bounds2,
    line(line_df(rsi_ema_x, rsi_ema_y, 1), ys2, "#8a8d96", 2.5, curve="monotone"),
    line(line_df(n, rsi, 1), ys2, "#fbc02d", 2.2),
    label("RSI", 17, 34), label("EMA", 17, 68),
    hseg(0, W, W + GUT), vseg(W + GUT, 0, H2),
]
rsi_layers += tag("EMA:MA", "55.39", 108, W - 105, W + 89, "#787b86", "#ffffff")
rsi_layers += tag("RSI", "50.69", 142, W - 57, W + 89, "#fbc02d", "#000000")
pane2 = alt.layer(*rsi_layers).properties(width=W, height=H2)

# ---------- MACD pane ----------
hist = pd.DataFrame({"i": n, "z": [0.0] * 264, "h": [v / 1000 for v in histogram],
                     "tonec": [tone_fill[t] for t in histogram_tone]})
hist_layer = alt.Chart(hist).mark_bar(size=8).encode(
    x=X(), y=Y("z:Q", ys3), y2="h:Q", color=alt.Color("tonec:N", scale=None))
cloud = ("M-1,0.7 C-1.25,0.25 -0.95,-0.1 -0.65,-0.1 C-0.5,-0.75 0.15,-1 0.4,-0.5 "
         "C0.85,-0.6 1.1,-0.1 0.95,0.2 C1.2,0.35 1.1,0.7 0.85,0.7 Z")
zig = "M-0.85,0.6 L-0.35,-0.05 L0.15,0.35 L0.6,-0.45"
macd_layers = [
    base(y_axis([-0.001, 0, 0.001],
                labelExpr="datum.value < 0 ? replace(format(datum.value, '.3f'), '-', '\u2212') : ''"),
         ys3, 0, bottom=True),
    hist_layer,
    line(line_df(macd_x, macd_y, 1000), ys3, "#2196f3", 2.5),
    line(line_df(signal_x, signal_y, 1000), ys3, "#ff6d00", 3, curve="monotone"),
    label("MACD", 17, 34),
    hseg(0, W, W + GUT), vseg(W + GUT, 0, H3 + 54),
    hseg(H3, W, W + GUT), hseg(H3 + 54, 0, W + GUT), vseg(0, H3, H3 + 54), vseg(W, H3, H3 + 54),
    alt.Chart(one).mark_point(shape=cloud, size=2600, filled=True, color="#2196f3", opacity=1).encode(
        x=alt.value(26), y=alt.value(H3 + 92)),
    alt.Chart(one).mark_point(shape=zig, size=2600, filled=False, color="#ffffff", strokeWidth=3, opacity=1).encode(
        x=alt.value(26), y=alt.value(H3 + 92)),
    label("TradingView", 54, H3 + 92, size=24.5, color=INK),
]
macd_layers += tag("Signal", "0.000", 69, W - 85, W + 89, "#ff6d00", "#ffffff")
macd_layers += tag("MACD", "0.000", 103, W - 83, W + 89, "#2196f3", "#ffffff")
macd_layers += tag("Histogram", "\u22120.000", 137, W - 127, W + 99, "#ef5350", "#ffffff")
pane3 = alt.layer(*macd_layers).properties(width=W, height=H3)

chart = alt.vconcat(pane1, pane2, pane3, spacing=0, bounds="flush").properties(
    padding=0, background="#ffffff"
).configure_view(stroke=FRAME, strokeWidth=2)

chart.save("out.html", embed_options={"renderer": "svg", "actions": False})
